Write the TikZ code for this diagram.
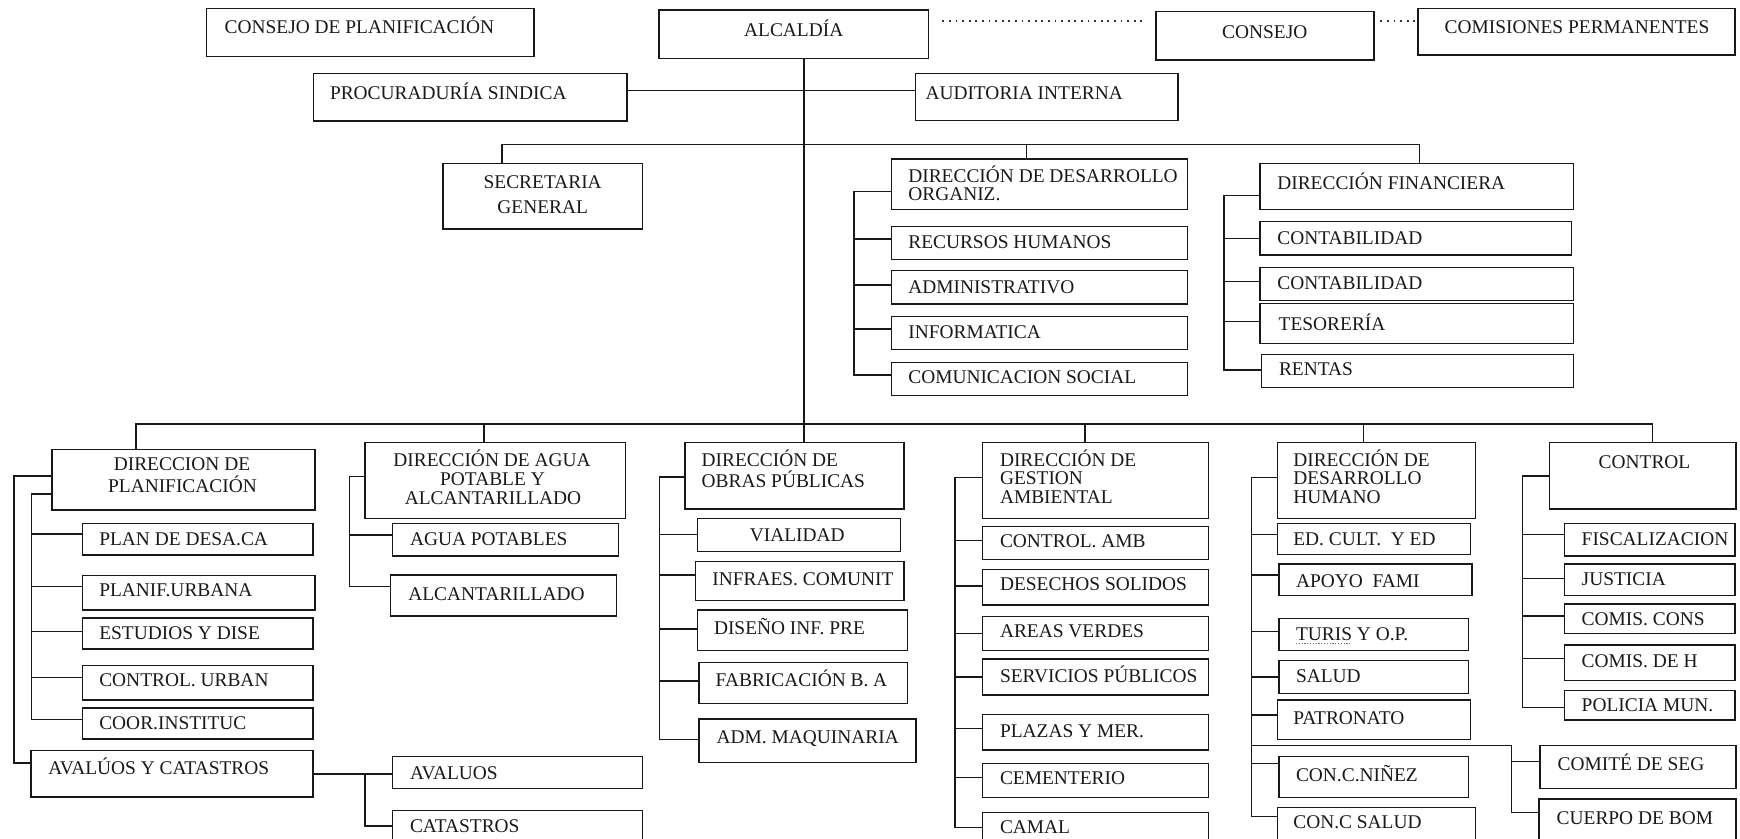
\documentclass[tikz,border=0pt]{standalone}
\usepackage{fontspec}
\setmainfont{Liberation Serif}
\tikzset{
  boxn/.style={draw=black!90, line width=0.75pt, inner sep=0pt, outer sep=0pt, rectangle, fill=white},
  txt/.style={inner sep=0pt, outer sep=0pt, font=\fontsize{9.7}{11}\selectfont, yshift=-3.2pt, text=black!90},
  ln/.style={draw=black!90, line width=0.75pt},
  dotl/.style={draw=black!80, line width=0.7pt, dash pattern=on 0.9pt off 2.4pt},
}
\newcommand\mybox[6][]{\node[boxn, minimum width={(#5-#3)*0.5pt}, minimum height={(#6-#4)*0.5pt}, anchor=north west, #1] (#2) at (#3,#4) {};}
\newcommand\mylt[4]{\node[txt, anchor=base west] (#1) at (#2,#3) {#4};}
\newcommand\myct[4]{\node[txt, anchor=base] (#1) at (#2,#3) {#4};}
\newcommand\mystub[2]{\coordinate (s-#1) at ([yshift=#2pt]#1.west);}
\newcommand\mybrack[3]{\draw[ln] (s-#2) -- (#1 |- s-#2) -- (#1 |- s-#3) -- (s-#3);}
\newcommand\mytie[2]{\draw[ln] (#1 |- s-#2) -- (s-#2);}
\begin{document}
\begin{tikzpicture}[x=0.5pt,y=-0.5pt]
\fill[white] (0,0) rectangle (1740,839);
\useasboundingbox (0,0) rectangle (1740,839);

% ---------- top boxes
\mybox{cplan}{206.4}{8.3}{533.8}{56.7}
\mybox{alc}{659.2}{10}{928.3}{58.3}
\mybox{cons}{1155.8}{11.7}{1373.8}{60}
\mybox{comp}{1418.2}{8.3}{1735}{55}
\mybox{proc}{313.5}{73.3}{627}{121}
\mybox{aud}{915.5}{73.3}{1178}{120.7}
\mybox{sec}{442.8}{163.3}{642.6}{229}
\mybox{ddo}{891.7}{159}{1187.7}{209.3}
\mybox{rh}{891.7}{226.7}{1187.7}{259.3}
\mybox{adm}{891.7}{270.7}{1187.7}{304}
\mybox{inf}{891.7}{316.7}{1187.7}{349.3}
\mybox{com}{891.7}{362.3}{1187.7}{395.7}
\mybox{df}{1260}{163.3}{1573.3}{209.3}
\mybox{con1}{1260}{221.7}{1571.7}{255}
\mybox{con2}{1260}{267.3}{1573.3}{300.7}
\mybox{tes}{1260}{303.3}{1573.3}{343.3}
\mybox{ren}{1261.7}{354.3}{1573.3}{387.7}

% ---------- bottom boxes
\mybox{dp}{52}{449.3}{315}{510}
\mybox{pd}{82.7}{523.3}{313}{555}
\mybox{pu}{82.7}{575.7}{315}{610}
\mybox{ed}{82.7}{618}{313}{649}
\mybox{cu}{82.7}{665.7}{313}{700}
\mybox{ci}{82.7}{708}{313}{739}
\mybox{av}{31}{750.7}{313}{797}
\mybox{avs}{392.7}{756.7}{642.7}{788.3}
\mybox{cat}{392.7}{810.7}{642.7}{850}
\mybox{da}{365}{442.7}{625.3}{518.3}
\mybox{ap}{392.7}{523.3}{618.3}{556}
\mybox{alk}{390.7}{575}{616.7}{616}
\mybox{dob}{685}{442.7}{904}{509}
\mybox{via}{697.3}{518.3}{900.7}{551.7}
\mybox{infr}{695.7}{561.7}{904}{600.7}
\mybox{dis}{697.3}{610}{907.3}{650.7}
\mybox{fab}{699}{662.3}{907.3}{703.3}
\mybox{maq}{699}{719}{916}{762.7}
\mybox{dg}{982.7}{442.7}{1208.7}{518.3}
\mybox{ca}{982.7}{526.7}{1208.7}{559.3}
\mybox{ds}{982.7}{569.3}{1208.7}{605}
\mybox{avd}{982.7}{616.7}{1208.7}{650.7}
\mybox{sp}{982.7}{659}{1208.7}{695}
\mybox{pm}{982.7}{714.3}{1208.7}{750}
\mybox{cem}{982.7}{763.3}{1208.7}{797.3}
\mybox{cam}{982.7}{812.3}{1208.7}{850}
\mybox{dh}{1277.3}{442.7}{1475.3}{518.3}
\mybox{ec}{1277.3}{523.3}{1470.7}{554.3}
\mybox{apf}{1279}{564}{1472}{595.7}
\mybox{tur}{1279}{618.3}{1468.7}{650.7}
\mybox{sal}{1279}{660.7}{1468.7}{693.3}
\mybox{pat}{1277.3}{700}{1470.7}{739.3}
\mybox{cn}{1279}{756.7}{1468.7}{797.3}
\mybox{cs}{1277.3}{807.3}{1475.3}{850}
\mybox{ctl}{1549.3}{442.7}{1736}{509}
\mybox{fis}{1564.3}{523.3}{1735}{556}
\mybox{jus}{1564.3}{564}{1735}{595.7}
\mybox{cc}{1564.3}{604}{1735}{633.3}
\mybox{ch}{1564.3}{645}{1735}{680.7}
\mybox{pol}{1564.3}{690.7}{1735}{720}
\mybox{cse}{1540}{745.7}{1736}{788.3}
\mybox{cb}{1539}{799}{1736}{850}

% ---------- texts
\mylt{cplan-t}{224.7}{27}{CONSEJO DE PLANIFICACIÓN}
\myct{alc-t}{793.7}{30}{ALCALDÍA}
\myct{cons-t}{1264.8}{32}{CONSEJO}
\myct{comp-t}{1577}{27}{COMISIONES PERMANENTES}
\mylt{proc-t}{330}{93}{PROCURADURÍA SINDICA}
\mylt{aud-t}{925.5}{93.3}{AUDITORIA INTERNA}
\myct{sec-t1}{542.7}{181.7}{SECRETARIA}
\myct{sec-t2}{542.7}{206.7}{GENERAL}
\mylt{ddo-t1}{908.3}{175.7}{DIRECCIÓN DE DESARROLLO}
\mylt{ddo-t2}{908.3}{194.3}{ORGANIZ.}
\mylt{rh-t}{908.3}{242.2}{RECURSOS HUMANOS}
\mylt{adm-t}{908.3}{287}{ADMINISTRATIVO}
\mylt{inf-t}{908.3}{331.7}{INFORMATICA}
\mylt{com-t}{908.3}{377}{COMUNICACION SOCIAL}
\mylt{df-t}{1277.3}{183}{DIRECCIÓN FINANCIERA}
\mylt{con1-t}{1277.3}{238.5}{CONTABILIDAD}
\mylt{con2-t}{1277.3}{283}{CONTABILIDAD}
\mylt{tes-t}{1278.7}{323.7}{TESORERÍA}
\mylt{ren-t}{1279}{369}{RENTAS}

\myct{dp-t1}{182}{464.5}{DIRECCION DE}
\myct{dp-t2}{182.5}{486.3}{PLANIFICACIÓN}
\mylt{pd-t}{99.3}{538.7}{PLAN DE DESA.CA}
\mylt{pu-t}{99.3}{590.3}{PLANIF.URBANA}
\mylt{ed-t}{99.3}{633}{ESTUDIOS Y DISE}
\mylt{cu-t}{99.3}{680.3}{CONTROL. URBAN}
\mylt{ci-t}{99.3}{723}{COOR.INSTITUC}
\mylt{av-t}{48.3}{768.5}{AVALÚOS Y CATASTROS}
\mylt{avs-t}{410}{773.3}{AVALUOS}
\mylt{cat-t}{410}{825.8}{CATASTROS}
\myct{da-t1}{492}{459.7}{DIRECCIÓN DE AGUA}
\myct{da-t2}{492.5}{478.8}{POTABLE Y}
\myct{da-t3}{493}{497.8}{ALCANTARILLADO}
\mylt{ap-t}{410}{539}{AGUA POTABLES}
\mylt{alk-t}{408.3}{593.7}{ALCANTARILLADO}
\mylt{dob-t1}{701.7}{459.7}{DIRECCIÓN DE}
\mylt{dob-t2}{701.7}{481.3}{OBRAS PÚBLICAS}
\myct{via-t}{797.3}{535}{VIALIDAD}
\mylt{infr-t}{712.3}{579.3}{INFRAES. COMUNIT}
\mylt{dis-t}{714}{628.3}{DISEÑO INF. PRE}
\mylt{fab-t}{715.7}{680}{FABRICACIÓN B. A}
\mylt{maq-t}{716.7}{737}{ADM. MAQUINARIA}
\mylt{dg-t1}{1000}{459.7}{DIRECCIÓN DE}
\mylt{dg-t2}{1000}{478.3}{GESTION}
\mylt{dg-t3}{1000}{497.3}{AMBIENTAL}
\mylt{ca-t}{1000}{541.3}{CONTROL. AMB}
\mylt{ds-t}{1000}{584.2}{DESECHOS SOLIDOS}
\mylt{avd-t}{1000}{631.3}{AREAS VERDES}
\mylt{sp-t}{1000}{675.7}{SERVICIOS PÚBLICOS}
\mylt{pm-t}{1000}{730.8}{PLAZAS Y MER.}
\mylt{cem-t}{1000}{778}{CEMENTERIO}
\mylt{cam-t}{1000}{827}{CAMAL}
\mylt{dh-t1}{1293.3}{459.7}{DIRECCIÓN DE}
\mylt{dh-t2}{1293.3}{478.3}{DESARROLLO}
\mylt{dh-t3}{1293.3}{497.3}{HUMANO}
\mylt{ec-t}{1293.3}{538.7}{ED. CULT.\ \ Y ED}
\mylt{apf-t}{1296}{581.2}{APOYO\ \ FAMI}
\mylt{tur-t}{1296}{633.7}{TURIS Y O.P.}
\mylt{sal-t}{1296}{675.7}{SALUD}
\mylt{pat-t}{1293.3}{717.8}{PATRONATO}
\mylt{cn-t}{1296}{775}{CON.C.NIÑEZ}
\mylt{cs-t}{1293.3}{822.3}{CON.C SALUD}
\myct{ctl-t}{1644.5}{461.7}{CONTROL}
\mylt{fis-t}{1581.7}{538.7}{FISCALIZACION}
\mylt{jus-t}{1581.7}{579.3}{JUSTICIA}
\mylt{cc-t}{1581.7}{619}{COMIS. CONS}
\mylt{ch-t}{1581.7}{661.3}{COMIS. DE H}
\mylt{pol-t}{1581.7}{705.5}{POLICIA MUN.}
\mylt{cse-t}{1557.7}{763.8}{COMITÉ DE SEG}
\mylt{cb-t}{1556.7}{817.8}{CUERPO DE BOM}
\draw[red!80, line width=0.5pt, dash pattern=on 0.6pt off 0.8pt] ([yshift=-1.6pt]tur-t.base west) -- ++(27pt,0);

% ---------- dotted links
\coordinate (dl) at (0,21);
\draw[dotl, shorten <=7pt, shorten >=7pt] (alc.east |- dl) -- (cons.west |- dl);
\draw[dotl, shorten <=3.3pt, shorten >=0.8pt] (cons.east |- dl) -- (comp.west |- dl);

% ---------- trunk and buses
\coordinate (xtr) at (804,0);
\draw[ln] (xtr |- alc.south) -- (xtr |- dob.north);
\coordinate (ypa) at (0,90.7);
\draw[ln] (proc.east |- ypa) -- (aud.west |- ypa);
\coordinate (yb1) at (0,144.5);
\coordinate (xsec) at (502.2,0);
\coordinate (xddo) at (1026.5,0);
\coordinate (xdf) at (1419.4,0);
\draw[ln] (xsec |- sec.north) -- (xsec |- yb1) -- (xdf |- yb1) -- (xdf |- df.north);
\draw[ln] (xddo |- yb1) -- (xddo |- ddo.north);
\coordinate (yb2) at (0,424);
\coordinate (xdp) at (136,0);
\coordinate (xda) at (484,0);
\coordinate (xdg) at (1085,0);
\coordinate (xdh) at (1363.3,0);
\coordinate (xctl) at (1652.7,0);
\draw[ln] (xdp |- dp.north) -- (xdp |- yb2) -- (xctl |- yb2) -- (xctl |- ctl.north);
\draw[ln] (xda |- yb2) -- (xda |- da.north);
\draw[ln] (xdg |- yb2) -- (xdg |- dg.north);
\draw[ln] (xdh |- yb2) -- (xdh |- dh.north);

% ---------- stub points
\mystub{ddo}{-3.8}\mystub{rh}{2}\mystub{adm}{1.2}\mystub{inf}{2}\mystub{com}{2}
\mystub{df}{-4.5}\mystub{con1}{0}\mystub{con2}{1.2}\mystub{tes}{0.8}\mystub{ren}{0.5}
\coordinate (s-dpa) at ([yshift=1.8pt]dp.west);
\coordinate (s-dpb) at ([yshift=-7.2pt]dp.west);
\mystub{av}{5.4}
\mystub{pd}{2.6}\mystub{pu}{3.1}\mystub{ed}{0.9}\mystub{cu}{2.6}\mystub{ci}{2.1}
\mystub{cat}{2.2}
\mystub{da}{1.9}\mystub{ap}{2.3}\mystub{alk}{4.4}
\mystub{dob}{-0.7}\mystub{via}{0.35}\mystub{infr}{3.1}\mystub{dis}{0.8}\mystub{fab}{0.9}\mystub{maq}{0.8}
\mystub{dg}{1.6}\mystub{ca}{1.15}\mystub{ds}{0.6}\mystub{avd}{0.2}\mystub{sp}{0}\mystub{pm}{1.9}\mystub{cem}{1.3}\mystub{cam}{1.9}
\mystub{dh}{1.6}\mystub{ec}{2.25}\mystub{apf}{2.4}\mystub{tur}{1.4}\mystub{sal}{0}\mystub{pat}{2.3}\mystub{cn}{6.85}\mystub{cs}{6}
\mystub{cse}{2.65}\mystub{cb}{5.9}
\mystub{ctl}{0}\mystub{fis}{2.7}\mystub{jus}{0.8}\mystub{cc}{1.3}\mystub{ch}{2.3}\mystub{pol}{-1}

% ---------- bracket x positions
\coordinate (bddo) at (854,0);
\coordinate (bdf) at (1224,0);
\coordinate (bpo) at (14,0);
\coordinate (bpi) at (31.7,0);
\coordinate (bav) at (365,0);
\coordinate (bda) at (349.3,0);
\coordinate (bdob) at (659.3,0);
\coordinate (bdg) at (955,0);
\coordinate (bdh) at (1251.7,0);
\coordinate (bcs) at (1511.7,0);
\coordinate (bctl) at (1522.7,0);

% ---------- brackets
\mybrack{bddo}{ddo}{com}
\foreach \n in {rh,adm,inf} {\mytie{bddo}{\n}}
\mybrack{bdf}{df}{ren}
\foreach \n in {con1,con2,tes} {\mytie{bdf}{\n}}
\mybrack{bpo}{dpa}{av}
\mybrack{bpi}{dpb}{ci}
\foreach \n in {pd,pu,ed,cu} {\mytie{bpi}{\n}}
\draw[ln] (av.east) -- (av.east -| avs.west);
\draw[ln] (bav |- av.east) -- (bav |- s-cat) -- (s-cat);
\mybrack{bda}{da}{alk}
\mytie{bda}{ap}
\mybrack{bdob}{dob}{maq}
\foreach \n in {via,infr,dis,fab} {\mytie{bdob}{\n}}
\mybrack{bdg}{dg}{cam}
\foreach \n in {ca,ds,avd,sp,pm,cem} {\mytie{bdg}{\n}}
\mybrack{bdh}{dh}{cs}
\foreach \n in {ec,apf,tur,sal,pat,cn} {\mytie{bdh}{\n}}
\coordinate (yj) at (0,745.7);
\draw[ln] (bdh |- yj) -- (bcs |- yj) -- (bcs |- s-cb) -- (s-cb);
\mytie{bcs}{cse}
\mybrack{bctl}{ctl}{pol}
\foreach \n in {fis,jus,cc,ch} {\mytie{bctl}{\n}}
\end{tikzpicture}
\end{document}
